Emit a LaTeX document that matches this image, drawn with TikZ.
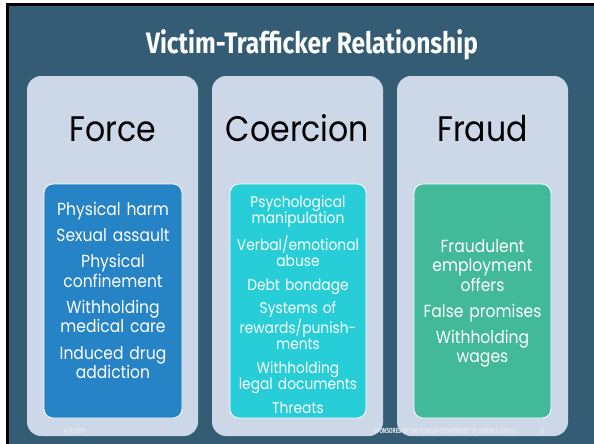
\documentclass[tikz,border=0pt]{standalone}
\usepackage{fontspec}
\setmainfont[FakeStretch=0.89]{Poppins}
\newfontfamily\titlefont[FakeStretch=0.83]{Fira Sans}
\newfontfamily\footfont[FakeStretch=0.68]{Fira Sans}
\definecolor{bgc}{HTML}{345C75}
\definecolor{panelc}{HTML}{CCD7E8}
\definecolor{forcec}{HTML}{2683C6}
\definecolor{coercc}{HTML}{27CED7}
\definecolor{fraudc}{HTML}{42BA97}
\definecolor{footc}{HTML}{E4E9F1}
\begin{document}
\begin{tikzpicture}[x=1pt,y=-1pt,
  panel/.style={fill=panelc, rounded corners=14pt, minimum width=171pt, minimum height=360pt, inner sep=0},
  innerbox/.style={fill=#1, draw=white, line width=0.8pt, rounded corners=9pt, minimum height=234pt, inner sep=0},
  head/.style={anchor=base, font=\fontsize{35.5}{40}\selectfont, text=black, inner sep=0},
  body/.style={anchor=base, text=white, align=center, inner sep=0, text width=138pt},
  foot/.style={anchor=base, text=footc, inner sep=0, font=\footfont\bfseries\fontsize{7.4}{8}\selectfont}
]
\useasboundingbox (0,0) rectangle (594,444);
\fill[white] (0,0) rectangle (594,444);
\fill[black] (6,3) rectangle (594,444);
\fill[bgc] (8.5,5.7) rectangle (594,444);

\node (title) [anchor=base, text=white, inner sep=0, font=\titlefont\bfseries\fontsize{29.5}{32}\selectfont] at (312,53) {Victim-Trafficker Relationship};

\node (p1) [panel] at (112.5,256) {};
\node (p2) [panel] at (297.5,256) {};
\node (p3) [panel] at (482.5,256) {};

\node (h1) [head] at (112.5,141) {Force};
\node (h2) [head] at (297.5,141) {Coercion};
\node (h3) [head] at (482.5,141) {Fraud};

\node (b1) [innerbox=forcec, minimum width=138pt] at (113,301) {};
\node (b2) [innerbox=coercc, minimum width=136pt] at (298,301) {};
\node (b3) [innerbox=fraudc, minimum width=137pt] at (482.5,301) {};

\node (t1) [body, font=\fontsize{17.5}{19.5}\selectfont] at (113,215)
  {Physical harm\\[7pt] Sexual assault\\[6.5pt] Physical\\ confinement\\[6.5pt] Withholding\\ medical care\\[7pt] Induced drug\\ addiction};
\node (t2) [body, font=\fontsize{15.5}{16.5}\selectfont] at (298,207)
  {Psychological\\ manipulation\\[7pt] Verbal/emotional\\ abuse\\[7pt] Debt bondage\\[7pt] Systems of\\ rewards/punish-\\ments\\[7pt] Withholding\\ legal documents\\[7pt] Threats};
\node (t3) [body, font=\fontsize{17.5}{19.5}\selectfont] at (482.5,252)
  {Fraudulent\\ employment\\ offers\\[6.5pt] False promises\\[6.5pt] Withholding\\ wages};

\node (date) [foot] at (74.5,433) {4/9/2019};
\node (spons) [foot] at (445.5,433) {SPONSORED BY THE FLORIDA DEPARTMENT OF JUVENILE JUSTICE};
\node (page) [foot] at (541.5,433) {13};
\end{tikzpicture}
\end{document}
